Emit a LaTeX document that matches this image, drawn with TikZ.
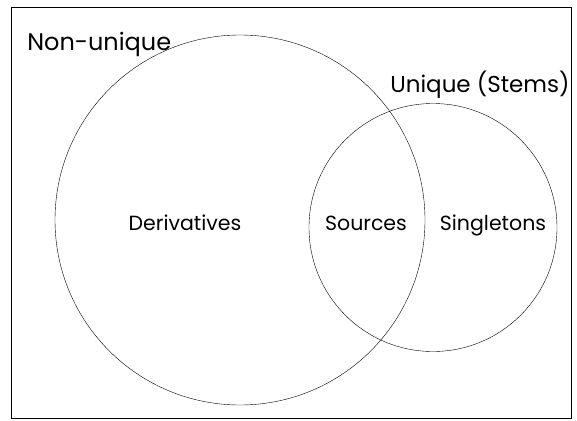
\documentclass[tikz,border=0pt]{standalone}
\usepackage{fontspec}
\setmainfont{Poppins}
\usepackage{tikz}
\usetikzlibrary{positioning}

\begin{document}
\begin{tikzpicture}[x=1pt,y=-1pt,semithick]
\tikzstyle{every set}=[draw=black,circle,inner sep=0pt,thin]
\tikzstyle{big label}=[font=\fontsize{24}{28}\selectfont,inner sep=0pt,anchor=base west]
\tikzstyle{part label}=[font=\fontsize{20.5}{24}\selectfont,inner sep=0pt,anchor=base]
\useasboundingbox (0,0) rectangle (577,420);
\node[draw=black,line width=0.9pt,minimum width=560pt,minimum height=411pt,inner sep=0pt,anchor=north west] (U) at (11,7) {};
\node[every set,minimum size=370pt] (N) at (240,220) {};
\node[every set,minimum size=248pt] (S) at (433,227.5) {};
\node[big label] (NL) at (27,50) {Non-unique};
\node[big label,font=\fontsize{23}{27}\selectfont] (SL) at (390,92) {Unique (Stems)};
\node[part label] (D) at (185,230) {Derivatives};
\node[part label] (So) at (366,230) {Sources};
\node[part label] (Si) at (493,230) {Singletons};
\end{tikzpicture}
\end{document}
